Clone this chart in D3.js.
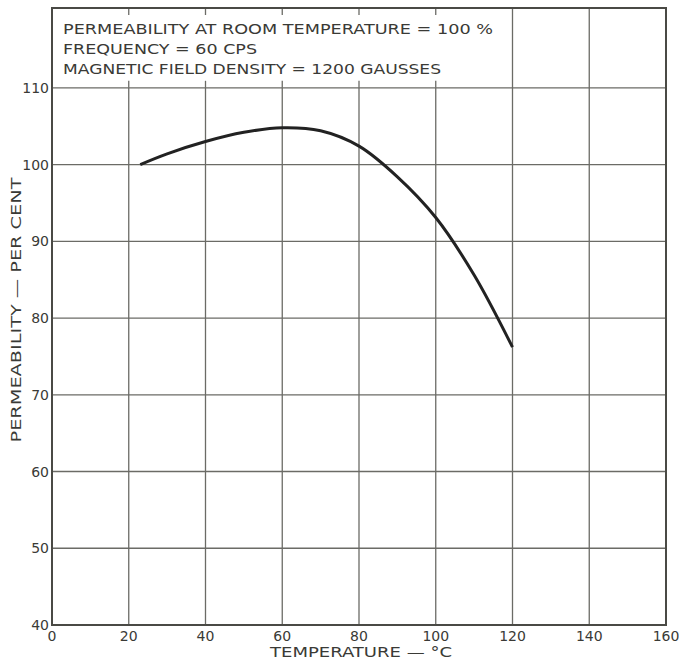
<!DOCTYPE html>
<html>
<head>
<meta charset="utf-8">
<script src="https://cdn.jsdelivr.net/npm/d3@7"></script>
<style>
  html, body { margin: 0; padding: 0; background: #fff; }
  svg { display: block; }
  text { font-family: "DejaVu Sans", sans-serif; fill: #3a3a36; }
</style>
</head>
<body>
<svg id="chart" width="679" height="661"></svg>
<script>
// curve
const temps = [23, 30, 40, 50, 60, 70, 80, 90, 100, 110, 120];
const perm = [100.0, 101.4, 103.0, 104.2, 104.8, 104.4, 102.4, 98.4, 93.1, 85.6, 76.2];

const xTicks = [0, 20, 40, 60, 80, 100, 120, 140, 160];
const yTicks = [40, 50, 60, 70, 80, 90, 100, 110];
const notes = [
  'PERMEABILITY AT ROOM TEMPERATURE = 100 %',
  'FREQUENCY = 60 CPS',
  'MAGNETIC FIELD DENSITY = 1200 GAUSSES'
];
const noteWidths = [430, 194, 378];

const svg = d3.select('#chart');
const margin = { left: 52, right: 13, top: 8, bottom: 36 };
const width = 679, height = 661;

const x = d3.scaleLinear().domain([0, 160]).range([margin.left, width - margin.right]);
// frame goes a bit above 110 to hold the notes box
const y = d3.scaleLinear().domain([40, 120.4]).range([height - margin.bottom, margin.top]);

const gridColor = '#6b6b66';
const g = svg.append('g');

// vertical grid lines (below 110, full height right of the notes box)
g.selectAll('line.vx')
  .data(xTicks.slice(1, -1))
  .enter().append('line')
    .attr('x1', d => x(d)).attr('x2', d => x(d))
    .attr('y1', y(40)).attr('y2', d => d > 115 ? y(120.4) : y(110))
    .attr('stroke', gridColor).attr('stroke-width', 1.3);

// short stubs of the covered grid lines inside the notes box
const covered = xTicks.filter(d => d > 0 && d < 115);
g.selectAll('line.stubTop')
  .data(covered)
  .enter().append('line')
    .attr('x1', d => x(d)).attr('x2', d => x(d))
    .attr('y1', y(120.4)).attr('y2', y(120.4) + 7)
    .attr('stroke', gridColor).attr('stroke-width', 1.3);
g.selectAll('line.stubBot')
  .data(covered)
  .enter().append('line')
    .attr('x1', d => x(d)).attr('x2', d => x(d))
    .attr('y1', y(110)).attr('y2', y(110) - 7)
    .attr('stroke', gridColor).attr('stroke-width', 1.3);

// horizontal grid lines
g.selectAll('line.hy')
  .data(yTicks.slice(1))
  .enter().append('line')
    .attr('x1', x(0)).attr('x2', x(160))
    .attr('y1', d => y(d)).attr('y2', d => y(d))
    .attr('stroke', gridColor).attr('stroke-width', 1.3);

// frame
g.append('rect')
  .attr('x', x(0)).attr('y', y(120.4))
  .attr('width', x(160) - x(0)).attr('height', y(40) - y(120.4))
  .attr('fill', 'none').attr('stroke', '#4a4a45').attr('stroke-width', 2);

// curve
const line = d3.line()
  .x((d, i) => x(temps[i]))
  .y(d => y(d))
  .curve(d3.curveCatmullRom.alpha(0.5));
g.append('path')
  .datum(perm)
  .attr('d', line)
  .attr('fill', 'none')
  .attr('stroke', '#222')
  .attr('stroke-width', 3);

// notes
g.selectAll('text.note')
  .data(notes)
  .enter().append('text')
    .attr('class', 'note')
    .attr('x', 63)
    .attr('y', (d, i) => 34 + i * 20)
    .attr('font-size', 14)
    .attr('textLength', (d, i) => noteWidths[i])
    .attr('lengthAdjust', 'spacingAndGlyphs')
    .text(d => d);

// y tick labels
g.selectAll('text.ytick')
  .data(yTicks)
  .enter().append('text')
    .attr('x', x(0) - 3)
    .attr('y', d => y(d) + 5)
    .attr('text-anchor', 'end')
    .attr('font-size', 14)
    .text(d => d);

// x tick labels
g.selectAll('text.xtick')
  .data(xTicks)
  .enter().append('text')
    .attr('x', d => x(d))
    .attr('y', y(40) + 16)
    .attr('text-anchor', 'middle')
    .attr('font-size', 14)
    .text(d => d);

// axis titles
g.append('text')
  .attr('x', 361).attr('y', 657)
  .attr('text-anchor', 'middle')
  .attr('font-size', 14)
  .attr('textLength', 182)
  .attr('lengthAdjust', 'spacingAndGlyphs')
  .text('TEMPERATURE — °C');

g.append('text')
  .attr('transform', 'translate(21,310) rotate(-90)')
  .attr('text-anchor', 'middle')
  .attr('font-size', 14)
  .attr('textLength', 265)
  .attr('lengthAdjust', 'spacingAndGlyphs')
  .text('PERMEABILITY — PER CENT');
</script>
</body>
</html>
